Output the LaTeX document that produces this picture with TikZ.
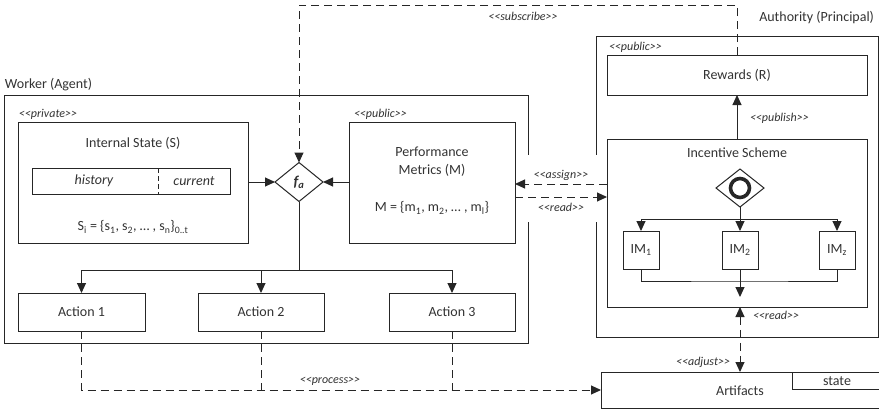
\documentclass[tikz,border=0pt]{standalone}
\usepackage{fontspec}
\setmainfont{Carlito}
\usetikzlibrary{arrows.meta,shapes.geometric}
\definecolor{ink}{HTML}{262626}
\definecolor{txt}{HTML}{333333}
% stereotype label: the kerns keep << and >> from turning into guillemets
\newcommand\stereo[1]{<\kern0pt<#1>\kern0pt>}

\begin{document}
\begin{tikzpicture}[x=1pt,y=-1pt,
  font=\fontsize{14}{16}\selectfont, text=txt,
  >={Triangle[length=10pt,width=9pt]},
  every node/.style={inner sep=0pt, outer sep=0pt},
  box/.style={draw=ink, line width=1pt, rectangle},
  gate/.style={draw=ink, line width=1pt, diamond, fill=white},
  lbl/.style={font=\fontsize{12}{14}\selectfont\itshape},
  flow/.style={draw=ink, line width=1pt},
  dflow/.style={draw=ink, line width=1pt, dash pattern=on 8pt off 5pt},
]
\fill[white] (0,0) rectangle (879,413);
\useasboundingbox (0,0) rectangle (879,413);

% ---------------- Worker (Agent) ----------------
\node[box, minimum width=524pt, minimum height=248pt] (worker) at (266,219) {};
\node[anchor=west] (workerlbl) at (5,85) {Worker (Agent)};

\node[lbl, anchor=west] (privlbl) at (19,114) {\stereo{private}};
\node[box, minimum width=230pt, minimum height=121pt] (state) at (133,182.5) {};
\node (statetitle) at (133,143) {Internal State (S)};
\node[box, minimum width=198pt, minimum height=26pt] (bar) at (131,181) {};
\draw[ink, line width=0.8pt, dash pattern=on 5pt off 3pt] (158,168) coordinate (divtop) -- (158,194) coordinate (divbot);
\node[font=\fontsize{14}{16}\selectfont\itshape] (hist) at (94,181) {history};
\node[font=\fontsize{14}{16}\selectfont\itshape] (curr) at (194,181) {current};
\node (sformula) at (133,227) {S\textsubscript{i} = \{s\textsubscript{1}, s\textsubscript{2}, … , s\textsubscript{n}\}\textsubscript{0..t}};

\node[lbl, anchor=west] (publbl) at (354,114) {\stereo{public}};
\node[box, minimum width=166pt, minimum height=121pt] (metrics) at (432,182.5) {};
\node[align=center, font=\fontsize{14}{18}\selectfont] (mtitle) at (432,162) {Performance\\Metrics (M)};
\node (mformula) at (432,208) {M = \{m\textsubscript{1}, m\textsubscript{2}, … , m\textsubscript{l}\}};

\node[gate, minimum width=48pt, minimum height=39pt] (fa) at (299,182)
  {\fontsize{15}{16}\selectfont\bfseries\itshape f\textsubscript{a}};

\node[box, minimum width=127pt, minimum height=38pt] (act1) at (81.5,312) {Action 1};
\node[box, minimum width=126pt, minimum height=38pt] (act2) at (261,312) {Action 2};
\node[box, minimum width=126pt, minimum height=38pt] (act3) at (452,312) {Action 3};

% ---------------- Authority (Principal) ----------------
\node[box, minimum width=282pt, minimum height=301pt] (auth) at (737,186.5) {};
\node[anchor=east] (authlbl) at (874,18) {Authority (Principal)};

\node[lbl, anchor=west] (pub2lbl) at (609,47) {\stereo{public}};
\node[box, minimum width=260pt, minimum height=40pt] (rewards) at (737,75) {Rewards (R)};

\node[box, minimum width=260pt, minimum height=168pt] (scheme) at (737,223) {};
\node (schemetitle) at (737,153) {Incentive Scheme};
\node[gate, minimum width=48pt, minimum height=38pt] (gw) at (740,188) {};
\node[circle, draw=ink, line width=3.6pt, minimum size=19pt] (ring) at (gw) {};

\node[box, minimum width=36pt, minimum height=38pt] (im1) at (641,250) {IM\textsubscript{1}};
\node[box, minimum width=36pt, minimum height=38pt] (im2) at (740,250) {IM\textsubscript{2}};
\node[box, minimum width=36pt, minimum height=38pt] (im3) at (837,250) {IM\textsubscript{z}};

% ---------------- Artifacts ----------------
\node[box, minimum width=283pt, minimum height=36pt] (art) at (742.5,390) {};
\node (artlbl) at (740,391) {Artifacts};
\node[box, minimum width=92pt, minimum height=17pt, anchor=north west] (stbox) at (792,372) {};
\node (stlbl) at (837,381) {state};

% openings in the two outer frames where assign/read pass through
\fill[white] (521,155) rectangle (602,222);

% ---------------- connectors ----------------
\draw[flow,->] (state.east |- fa.west) -- (fa.west);
\draw[flow,->] (metrics.west |- fa.east) -- (fa.east);

\coordinate (abr) at (299,270);
\draw[flow] (fa.south) -- (abr);
\draw[flow,->] (abr) -| (act1.north);
\draw[flow,->] (abr) -| (act3.north);
\draw[flow,->] (act2.north |- abr) -- (act2.north);

\coordinate (sub) at (299,5);
\draw[dflow,->] (rewards.north) |- (sub) -- (fa.north);
\node[lbl] (sublbl) at (523,16) {\stereo{subscribe}};

\draw[flow,->] (scheme.north) -- (rewards.south);
\node[lbl, anchor=west] (publishlbl) at (750,118) {\stereo{publish}};

\coordinate (gbr) at (740,219);
\draw[flow] (gw.south) -- (gbr);
\draw[flow,->] (gbr) -| (im1.north);
\draw[flow,->] (gbr) -| (im3.north);
\draw[flow,->] (gbr) -- (im2.north);
\coordinate (mrg) at (740,281);
\coordinate (mout) at (740,297);
\draw[flow] (im1.south) |- (mrg) -| (im3.south);
\draw[flow,->] (im2.south) -- (mout);

\coordinate (asg) at (607,184);
\coordinate (rd) at (515,197);
\draw[dflow,->] (asg) -- (asg -| metrics.east);
\draw[dflow,->] (rd) -- (rd -| scheme.west);
\node[lbl] (asglbl) at (561,175) {\stereo{assign}};
\node[lbl] (rdlbl) at (561,207) {\stereo{read}};

\draw[dflow,<->] (scheme.south -| gw) -- (art.north -| gw);
\node[lbl, anchor=west] (rd2lbl) at (753,315) {\stereo{read}};
\node[lbl, anchor=east] (adjlbl) at (730,362) {\stereo{adjust}};

\draw[dflow,->] (act1.south) |- (art.west);
\draw[dflow] (act2.south) -- (act2.south |- art.west);
\draw[dflow] (act3.south) -- (act3.south |- art.west);
\node[lbl] (proclbl) at (330,381) {\stereo{process}};
\end{tikzpicture}
\end{document}
